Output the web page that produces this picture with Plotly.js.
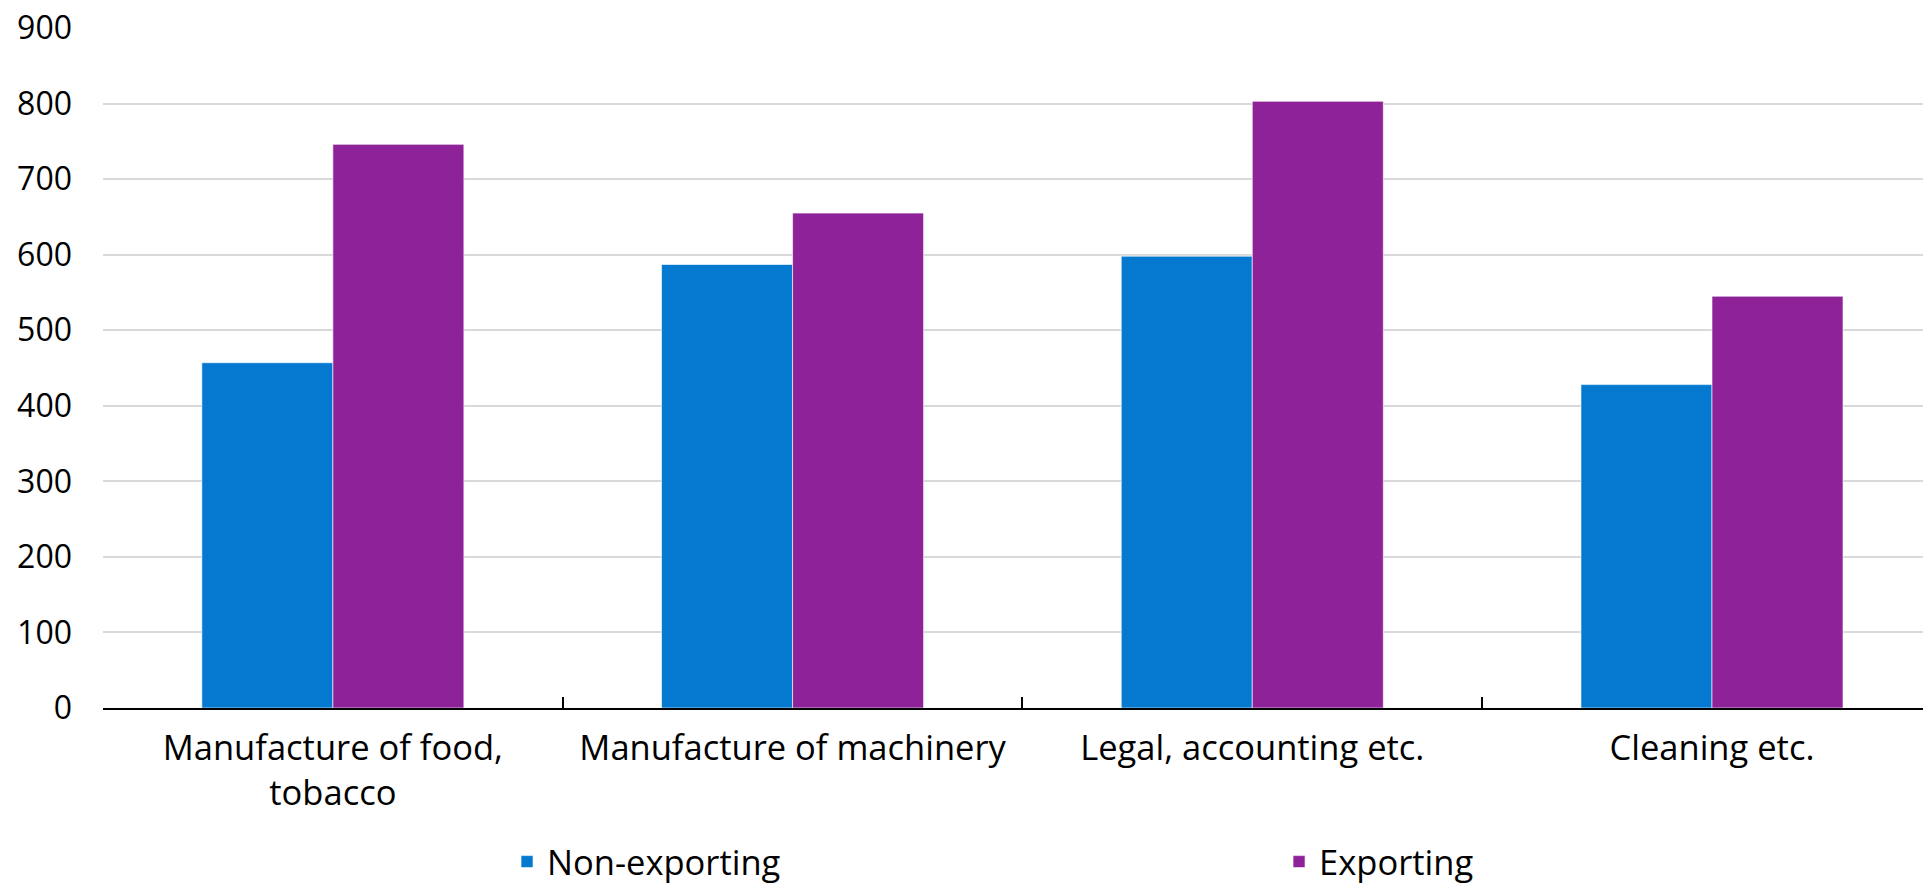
<!DOCTYPE html>
<html>
<head>
<meta charset="utf-8">
<script src="https://cdn.plot.ly/plotly-3.0.1.min.js"></script>
<style>
  html, body { margin: 0; padding: 0; background: #ffffff; }
  #chart { width: 1923px; height: 884px; }
</style>
</head>
<body>
<div id="chart"></div>
<script>
const categories = ["Manufacture of food,<br>tobacco", "Manufacture of machinery", "Legal, accounting etc.", "Cleaning etc."];
const nonExporting = [457, 587, 598, 428];
const exporting = [746, 655, 803, 545];
const seriesNames = ["Non-exporting", "Exporting"];
const yTicks = [0, 100, 200, 300, 400, 500, 600, 700, 800, 900];

const FONT = "Open Sans, Noto Sans, Liberation Sans, sans-serif";

const traces = [
  {
    type: "bar", name: seriesNames[0], x: categories, y: nonExporting,
    marker: { color: "#0479CF", line: { color: "rgba(255,255,255,0.6)", width: 1 } },
    hoverinfo: "x+y+name"
  },
  {
    type: "bar", name: seriesNames[1], x: categories, y: exporting,
    marker: { color: "#8E2399", line: { color: "rgba(255,255,255,0.6)", width: 1 } },
    hoverinfo: "x+y+name"
  }
];

const layout = {
  width: 1923, height: 884,
  margin: { l: 103, r: 0, t: 28, b: 176, autoexpand: false },
  paper_bgcolor: "#ffffff", plot_bgcolor: "#ffffff",
  font: { family: FONT, size: 34, color: "#000000" },
  barmode: "group",
  bargap: 0.43,
  bargroupgap: 0,
  showlegend: true,
  legend: {
    orientation: "h", x: 0.222, xanchor: "left", y: -0.226, yanchor: "middle",
    entrywidth: 727, entrywidthmode: "pixels",
    font: { family: FONT, size: 34.5, color: "#000000" },
    traceorder: "normal"
  },
  xaxis: {
    type: "category",
    range: [-0.5, 3.459],
    showline: true, linecolor: "#000000", linewidth: 2,
    ticks: "inside", tickson: "boundaries", ticklen: 11, tickwidth: 1.5, tickcolor: "#000000",
    showgrid: false, zeroline: false,
    tickfont: { family: FONT, size: 34.5, color: "#000000" },
    ticklabelstandoff: 9,
    automargin: false, fixedrange: true
  },
  yaxis: {
    range: [0, 900],
    tickvals: yTicks,
    ticktext: yTicks.map(String),
    showgrid: true, gridcolor: "#d9d9d9", gridwidth: 1.5,
    zeroline: false, showline: false, ticks: "",
    tickfont: { family: FONT, size: 32, color: "#000000" },
    ticklabelstandoff: 30,
    automargin: false, fixedrange: true
  }
};

Plotly.newPlot("chart", traces, layout, { displayModeBar: false, staticPlot: false });
</script>
</body>
</html>
